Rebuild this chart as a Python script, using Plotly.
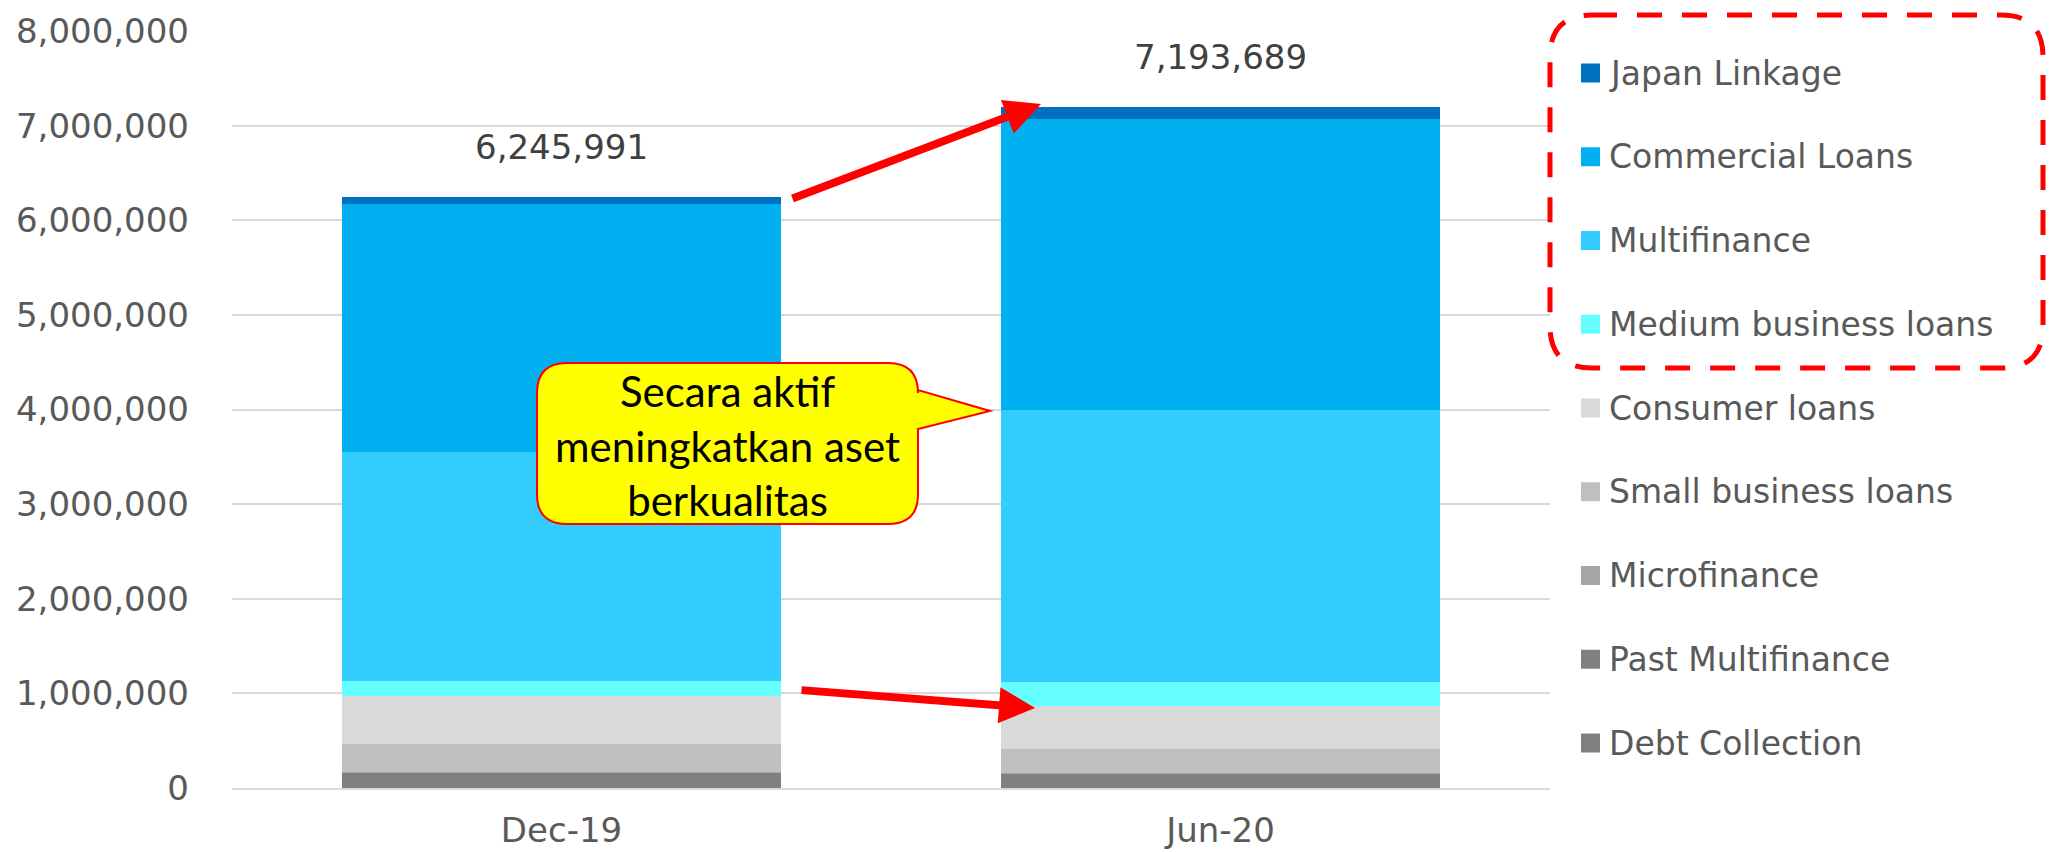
import plotly.graph_objects as go

# ---------------- data ----------------
categories = ["Dec-19", "Jun-20"]
series_names = ["Debt Collection", "Past Multifinance", "Microfinance", "Small business loans",
                "Consumer loans", "Medium business loans", "Multifinance", "Commercial Loans",
                "Japan Linkage"]
debt_collection = [45000, 63000]
past_multifinance = [113000, 88000]
microfinance = [8000, 5000]
small_business = [298000, 253000]
consumer_loans = [508000, 457000]
medium_business = [157000, 250000]
multifinance = [2418000, 2876000]
commercial_loans = [2620000, 3075000]
japan_linkage = [78991, 126689]
series_values = [debt_collection, past_multifinance, microfinance, small_business,
                 consumer_loans, medium_business, multifinance, commercial_loans, japan_linkage]
series_colors = ["#7F7F7F", "#808080", "#A6A6A6", "#BFBFBF", "#D9D9D9",
                 "#66FFFF", "#33CCFF", "#00B0F0", "#0070C0"]
y_ticks = [0, 1000000, 2000000, 3000000, 4000000, 5000000, 6000000, 7000000, 8000000]
callout_text = "Secara aktif<br>meningkatkan aset<br>berkualitas"

# ---------------- geometry helpers (pixel -> paper) ----------------
W_FIG, H_FIG = 2051, 852
L, R, T, B = 232, 1550, 31, 788
PW, PH = R - L, B - T


def px(X):
    return (X - L) / PW


def py(Y):
    return (B - Y) / PH


def pt(X, Y):
    return f"{px(X):.5f},{py(Y):.5f}"


def rounded_rect_path(x0, y0, x1, y1, r, pointer=None):
    p = f"M{pt(x0 + r, y0)} L{pt(x1 - r, y0)} Q{pt(x1, y0)} {pt(x1, y0 + r)} "
    if pointer:
        (ya, (tx, ty), yb) = pointer
        p += f"L{pt(x1, ya)} L{pt(tx, ty)} L{pt(x1, yb)} "
    p += (f"L{pt(x1, y1 - r)} Q{pt(x1, y1)} {pt(x1 - r, y1)} "
          f"L{pt(x0 + r, y1)} Q{pt(x0, y1)} {pt(x0, y1 - r)} "
          f"L{pt(x0, y0 + r)} Q{pt(x0, y0)} {pt(x0 + r, y0)} Z")
    return p


TICK_FONT = dict(family="DejaVu Sans", size=34, color="#595959")
LEGEND_FONT = dict(family="DejaVu Sans", size=33, color="#595959")

fig = go.Figure()
for name, vals, col in zip(series_names, series_values, series_colors):
    fig.add_trace(go.Bar(x=categories, y=vals, name=name, marker=dict(color=col, line=dict(width=0)),
                         showlegend=False, hoverinfo="skip"))

totals = [sum(s[i] for s in series_values) for i in range(len(categories))]

annotations = []
for cat, tot in zip(categories, totals):
    annotations.append(dict(x=cat, y=tot, xref="x", yref="y", text=f"{tot:,}", showarrow=False,
                            yshift=50, font=dict(family="DejaVu Sans", size=34, color="#404040")))

# manual legend (top entry = Japan Linkage)
legend_y0, legend_step = 73, 83.75
for i, (name, col) in enumerate(zip(series_names[::-1], series_colors[::-1])):
    yc = legend_y0 + i * legend_step
    fig.add_shape(type="rect", xref="paper", yref="paper",
                  x0=px(1581), x1=px(1600), y0=py(yc + 9.5), y1=py(yc - 9.5),
                  fillcolor=col, line=dict(width=0))
    annotations.append(dict(x=px(1607), y=py(yc), xref="paper", yref="paper", text=name,
                            showarrow=False, xanchor="left", yanchor="middle", font=LEGEND_FONT))

# dashed highlight box around the first four legend entries
fig.add_shape(type="path", xref="paper", yref="paper",
              path=rounded_rect_path(1550, 15, 2043, 368, 42),
              line=dict(color="#FF0000", width=5, dash="25px,20px"))

# callout bubble
fig.add_shape(type="path", xref="paper", yref="paper",
              path=rounded_rect_path(537, 363, 918, 524, 30, pointer=(390, (990, 411), 429)),
              fillcolor="#FFFF00", line=dict(color="#FF0000", width=2))
annotations.append(dict(x=px(727), y=py(445), xref="paper", yref="paper", text=callout_text,
                        showarrow=False, xanchor="center", yanchor="middle", align="center",
                        font=dict(family="Lato", size=42, color="#000000")))

# red arrows
for (tail, tip) in [((791, 199), (1041, 104)), ((800, 690), (1035, 708))]:
    annotations.append(dict(x=px(tip[0]), y=py(tip[1]), xref="paper", yref="paper", text="",
                            showarrow=True, ax=tail[0] - tip[0], ay=tail[1] - tip[1],
                            arrowhead=2, arrowsize=0.9, arrowwidth=8, arrowcolor="#FF0000",
                            standoff=0, startstandoff=0))

fig.update_layout(
    width=W_FIG, height=H_FIG,
    margin=dict(l=L, r=W_FIG - R, t=T, b=H_FIG - B, pad=0, autoexpand=False),
    barmode="stack", bargap=0.334,
    plot_bgcolor="white", paper_bgcolor="white",
    showlegend=False,
    annotations=annotations,
    xaxis=dict(type="category", showgrid=False, showline=True, linecolor="#D9D9D9", linewidth=2,
               ticks="", tickfont=TICK_FONT, ticklabelstandoff=11, range=[-0.5, 1.5],
               automargin=False),
    yaxis=dict(range=[0, 8000000], tickvals=y_ticks, tickformat=",", showgrid=True,
               gridcolor="#D9D9D9", gridwidth=2, zeroline=False, showline=False, ticks="",
               tickfont=TICK_FONT, ticklabelstandoff=42, automargin=False),
)

fig.write_html("out.html", config={"displayModeBar": False, "staticPlot": True},
               post_script="document.body.style.margin='0';document.body.style.overflow='hidden';")
